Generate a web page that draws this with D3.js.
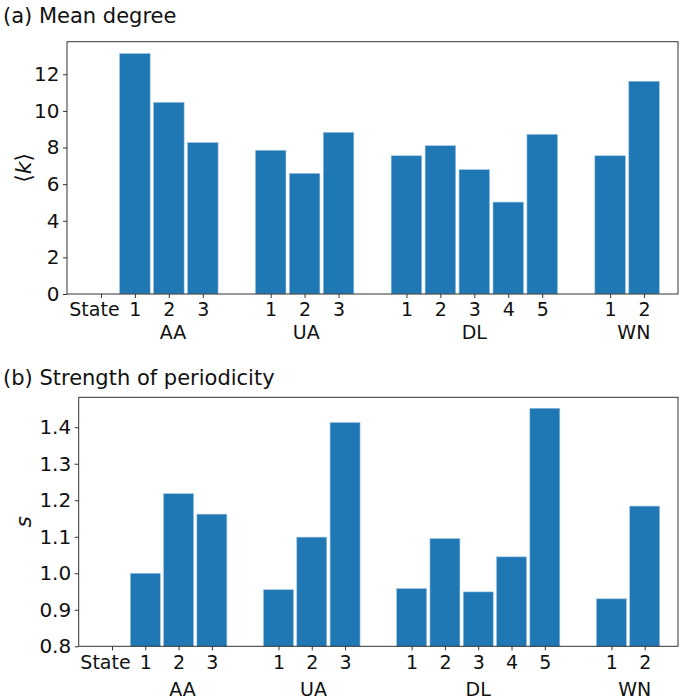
<!DOCTYPE html>
<html>
<head>
<meta charset="utf-8">
<script src="https://cdn.jsdelivr.net/npm/d3@7"></script>
<style>
  html, body { margin: 0; padding: 0; background: #fff; }
  svg { display: block; font-family: "DejaVu Sans", sans-serif; }
</style>
</head>
<body>
<svg id="chart" width="685" height="700"></svg>
<script>
// ---- data ----
const groupNames = ["AA", "UA", "DL", "WN"];
const stateLabels = ["1","2","3", "1","2","3", "1","2","3","4","5", "1","2"];
const stateGroup  = ["AA","AA","AA", "UA","UA","UA", "DL","DL","DL","DL","DL", "WN","WN"];
const meanDegree  = [13.13, 10.47, 8.27, 7.85, 6.59, 8.83, 7.55, 8.10, 6.79, 5.02, 8.72, 7.55, 11.62];
const periodicity = [1.000, 1.218, 1.162, 0.955, 1.099, 1.413, 0.958, 1.095, 0.949, 1.045, 1.452, 0.930, 1.184];
const degreeTicks = [0, 2, 4, 6, 8, 10, 12];
const periodTicks = [0.8, 0.9, 1.0, 1.1, 1.2, 1.3, 1.4];

// ---- layout: slot positions (one empty slot between groups) ----
const positions = [];
{
  let p = 0, prev = null;
  stateGroup.forEach(g => {
    p += (prev !== null && g !== prev) ? 2 : 1;
    positions.push(p);
    prev = g;
  });
}
const groupCenters = groupNames.map(g => {
  const ps = positions.filter((_, i) => stateGroup[i] === g);
  return d3.mean(ps);
});
const groupNudge = [0.12, 0.05, 0, 0.2];

const svg = d3.select("#chart");
const barColor = "#1f77b4";
const spine = "#333";

function panel(cfg) {
  const x = d3.scaleLinear().domain([-1, 17]).range([cfg.left, cfg.right]);
  const y = d3.scaleLinear().domain(cfg.ydomain).range([cfg.bottom, cfg.top]);
  const g = svg.append("g");
  const bw = (x(1) - x(0)) * 0.9;

  // bars
  g.selectAll("rect.bar").data(cfg.values).join("rect")
    .attr("class", "bar")
    .attr("x", (d, i) => x(positions[i]) - bw / 2)
    .attr("width", bw)
    .attr("y", d => y(d))
    .attr("height", d => y(cfg.ydomain[0]) - y(d))
    .attr("fill", barColor)
    .attr("stroke", "#9ec3e2")
    .attr("stroke-width", 0.6);

  // y axis
  const ya = g.append("g").attr("transform", `translate(${cfg.left},0)`)
    .call(d3.axisLeft(y).tickValues(cfg.yticks).tickFormat(cfg.yfmt).tickSize(4).tickPadding(3.5));
  ya.select(".domain").remove();
  ya.selectAll(".tick line").attr("stroke", spine);
  ya.selectAll(".tick text").attr("font-size", 20).attr("fill", "#111")
    .attr("font-family", "DejaVu Sans");

  // x axis
  const xa = g.append("g").attr("transform", `translate(0,${cfg.bottom})`)
    .call(d3.axisBottom(x).tickValues([0].concat(positions))
      .tickFormat((d) => d === 0 ? "State" : stateLabels[positions.indexOf(d)])
      .tickSize(4).tickPadding(cfg.tickPad));
  xa.select(".domain").remove();
  xa.selectAll(".tick line").attr("stroke", spine);
  xa.selectAll(".tick text").attr("font-size", 19).attr("fill", "#111")
    .attr("font-family", "DejaVu Sans")
    .attr("dx", d => d === 0 ? -7 : 0);

  // group labels
  g.selectAll("text.grp").data(groupNames).join("text")
    .attr("class", "grp")
    .attr("x", (d, i) => x(groupCenters[i] + groupNudge[i]))
    .attr("y", cfg.bottom + cfg.groupOffset)
    .attr("text-anchor", "middle")
    .attr("font-size", 19).attr("fill", "#111")
    .text(d => d);

  // frame
  g.append("rect")
    .attr("x", cfg.left).attr("y", cfg.top)
    .attr("width", cfg.right - cfg.left).attr("height", cfg.bottom - cfg.top)
    .attr("fill", "none").attr("stroke", spine).attr("stroke-width", 1);

  // title
  svg.append("text").attr("x", 3).attr("y", cfg.titleY)
    .attr("font-size", 21).attr("fill", "#111").text(cfg.title);

  // y label
  const yl = svg.append("text")
    .attr("transform", `translate(${cfg.ylabelX},${(cfg.top + cfg.bottom) / 2}) rotate(-90)`)
    .attr("text-anchor", "middle").attr("font-size", 22).attr("fill", "#111");
  cfg.ylabel(yl);
}

panel({
  left: 67, right: 678, top: 41.7, bottom: 294,
  ydomain: [0, 13.78], yticks: degreeTicks, yfmt: d3.format("d"),
  values: meanDegree,
  tickPad: 4.5, groupOffset: 45,
  title: "(a) Mean degree", titleY: 23,
  ylabelX: 31,
  ylabel: t => {
    t.append("tspan").text("\u27E8");
    t.append("tspan").attr("font-style", "italic").text("k");
    t.append("tspan").text("\u27E9");
  }
});

panel({
  left: 78.7, right: 678, top: 397.3, bottom: 646.3,
  ydomain: [0.8, 1.482], yticks: periodTicks, yfmt: d3.format(".1f"),
  values: periodicity,
  tickPad: 5.5, groupOffset: 50,
  title: "(b) Strength of periodicity", titleY: 385,
  ylabelX: 31,
  ylabel: t => {
    t.append("tspan").attr("font-style", "italic").text("s");
  }
});
</script>
</body>
</html>
